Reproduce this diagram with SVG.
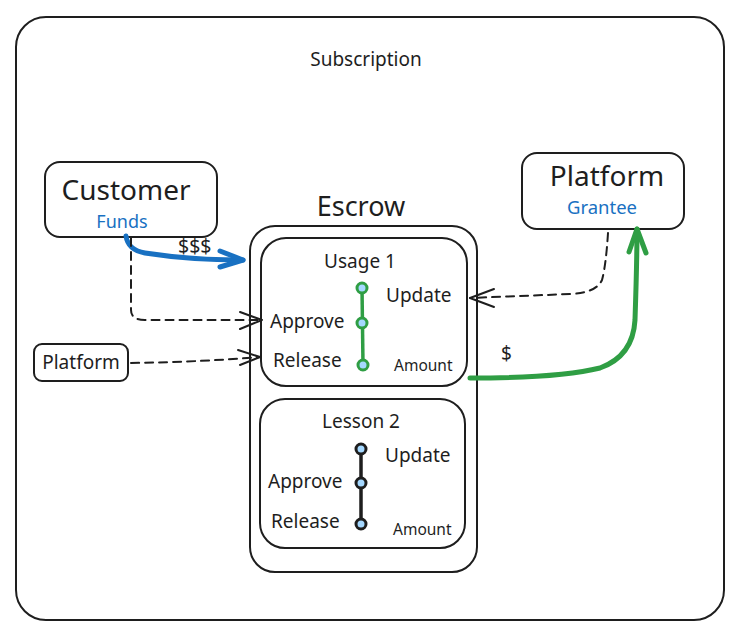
<svg xmlns="http://www.w3.org/2000/svg" width="740" height="639" viewBox="0 0 740 639">
<defs>
<style>
.box{fill:#fff;stroke:#1e1e1e;stroke-width:2}
.t{font-family:"Noto Sans",Lato,sans-serif;fill:#1e1e1e}
.blue{fill:#1971c2}
.dash{fill:none;stroke:#1e1e1e;stroke-width:2;stroke-dasharray:8 6;stroke-linecap:round}
.head{fill:none;stroke:#1e1e1e;stroke-width:2;stroke-linecap:round;stroke-linejoin:round}
.dot{stroke-width:3}
</style>
</defs>
<rect width="740" height="639" fill="#fff"/>
<g id="subscription">
<rect class="box" x="16" y="17" width="708" height="603" rx="30"/>
<text class="t" x="366" y="66" font-size="19" text-anchor="middle" font-family="'Liberation Sans',sans-serif">Subscription</text>
</g>
<g id="customer">
<rect class="box" x="45" y="162" width="172" height="75" rx="15"/>
<text class="t" x="126" y="200" font-size="28" text-anchor="middle">Customer</text>
<text class="t blue" x="122" y="228" font-size="18" text-anchor="middle">Funds</text>
</g>
<g id="platform-grantee">
<rect class="box" x="522" y="153" width="162" height="76" rx="15"/>
<text class="t" x="607" y="186" font-size="28" text-anchor="middle">Platform</text>
<text class="t blue" x="602" y="214" font-size="18.5" text-anchor="middle">Grantee</text>
</g>
<g id="platform-small">
<rect class="box" x="34" y="344" width="94" height="37" rx="8"/>
<text class="t" x="81" y="369" font-size="19" text-anchor="middle">Platform</text>
</g>
<g id="escrow">
<text class="t" x="361" y="216" font-size="27" text-anchor="middle">Escrow</text>
<rect class="box" x="250" y="226" width="227" height="346" rx="25"/>
</g>
<g id="usage1">
<rect class="box" x="261" y="238" width="206" height="148" rx="25"/>
<text class="t" x="360" y="268" font-size="19" text-anchor="middle">Usage 1</text>
<line x1="362" y1="288" x2="363" y2="365" stroke="#2f9e44" stroke-width="3.5"/>
<g fill="#a5d8ff" stroke="#2f9e44" class="dot">
<circle cx="362" cy="288" r="5"/>
<circle cx="362" cy="323" r="5"/>
<circle cx="363" cy="365" r="5"/>
</g>
<text class="t" x="386" y="302" font-size="19">Update</text>
<text class="t" x="270" y="328" font-size="19">Approve</text>
<text class="t" x="273" y="367" font-size="19">Release</text>
<text class="t" x="394" y="371" font-size="15.5">Amount</text>
</g>
<g id="lesson2">
<rect class="box" x="260" y="399" width="205" height="149" rx="25"/>
<text class="t" x="361" y="428" font-size="19" text-anchor="middle">Lesson 2</text>
<line x1="361" y1="449" x2="361" y2="524" stroke="#1e1e1e" stroke-width="3.5"/>
<g fill="#a5d8ff" stroke="#1e1e1e" class="dot">
<circle cx="361" cy="449" r="5"/>
<circle cx="361" cy="483" r="5"/>
<circle cx="361" cy="524" r="5"/>
</g>
<text class="t" x="385" y="462" font-size="19">Update</text>
<text class="t" x="268" y="488" font-size="19">Approve</text>
<text class="t" x="271" y="528" font-size="19">Release</text>
<text class="t" x="393" y="535" font-size="15.5">Amount</text>
</g>
<g id="connectors">
<path d="M126 236 Q128 250 145 253 Q190 260 243 260" fill="none" stroke="#1971c2" stroke-width="5" stroke-linecap="round"/>
<path d="M220 251 L243 260 L220 267" fill="none" stroke="#1971c2" stroke-width="5" stroke-linecap="round" stroke-linejoin="round"/>
<text class="t" x="178" y="253" font-size="19.5">$$$</text>
<path class="dash" d="M131 238 L131 310 Q131 320 145 320 L262 320"/>
<path class="head" d="M240 312 L262 320 L240 329"/>
<path class="dash" d="M131 363 Q200 362 260 357"/>
<path class="head" d="M238 350 L260 357 L240 365"/>
<path class="dash" d="M608 233 Q606 265 602 280 Q596 293 570 294 L470 298"/>
<path class="head" d="M494 289 L470 298 L494 307"/>
<path d="M470 378 Q560 378 600 368 Q633 356 635 320 Q637 260 637 229" fill="none" stroke="#2f9e44" stroke-width="5" stroke-linecap="round"/>
<path d="M629 252 L637 229 L646 253" fill="none" stroke="#2f9e44" stroke-width="5" stroke-linecap="round" stroke-linejoin="round"/>
<text class="t" x="501" y="360" font-size="19">$</text>
</g>
</svg>
